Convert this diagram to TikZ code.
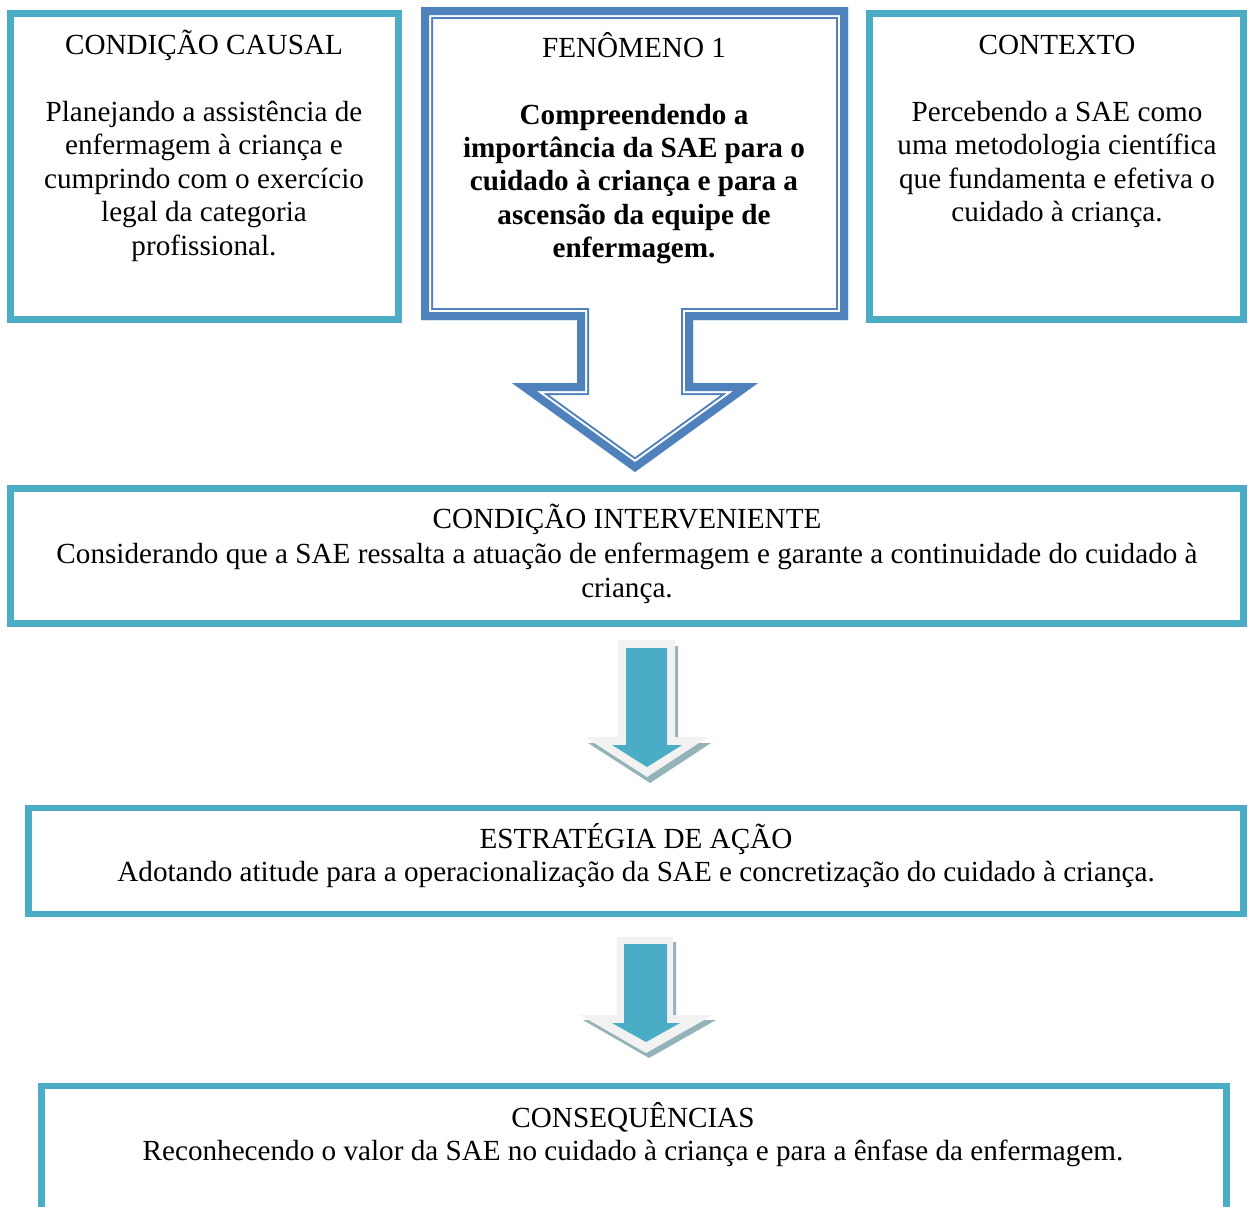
\documentclass[tikz,border=0pt]{standalone}
\usepackage{fontspec}
\setmainfont{Liberation Serif}
\usepackage{tikz}
\usetikzlibrary{positioning}
\definecolor{aqua}{HTML}{4BACC6}
\definecolor{azul}{HTML}{4F81BD}
\definecolor{cinzaseta}{HTML}{F2F2F2}
\definecolor{sombraseta}{HTML}{93B3B9}
\tikzstyle{caixa}=[draw=aqua, line width=0.13cm, shape=rectangle, fill=white, inner sep=0pt]
\tikzstyle{texto}=[black, align=center, inner sep=0pt, anchor=north, font=\fontsize{16.6}{19}\selectfont]

\begin{document}
\begin{tikzpicture}[x=0.02cm, y=-0.02cm]
\useasboundingbox (0,0) rectangle (1248,1207);

\node [caixa, minimum width=7.76cm, minimum height=6.12cm] (causal) at (204.5,166.5) {};
\node [caixa, minimum width=7.48cm, minimum height=6.12cm] (contexto) at (1056.5,166.5) {};
\node [caixa, minimum width=24.66cm, minimum height=2.70cm] (interv) at (627,556) {};
\node [caixa, minimum width=24.30cm, minimum height=2.12cm] (estrat) at (636,861) {};
\node [caixa, minimum width=23.70cm, minimum height=2.88cm] (conseq) at (634,1158) {};

% fenomeno: caixa com seta, linha dupla grossa/fina
\begin{scope}
\clip (421,7) -- (848,7) -- (848,320) -- (693,320) -- (693,383) -- (758,383) -- (635,472) -- (512,383) -- (577,383) -- (577,320) -- (421,320) -- cycle;
\fill[white] (421,7) rectangle (848,472);
\foreach \lw/\cor in {0.48cm/azul, 0.4cm/white, 0.32cm/azul}
  \draw[line width=\lw, draw=\cor, line join=miter] (421,7) -- (848,7) -- (848,320) -- (693,320) -- (693,383) -- (758,383) -- (635,472) -- (512,383) -- (577,383) -- (577,320) -- (421,320) -- cycle;
\end{scope}

% setas menores
\fill[sombraseta, shift={(3,6)}] (618,640) -- (675,640) -- (675,737) -- (708,737) -- (647,777) -- (585,737) -- (618,737) -- cycle;
\fill[cinzaseta] (618,640) -- (675,640) -- (675,737) -- (708,737) -- (647,777) -- (585,737) -- (618,737) -- cycle;
\fill[aqua] (626,648) -- (667,648) -- (667,745) -- (682,745) -- (647,767) -- (612,745) -- (626,745) -- cycle;

\fill[sombraseta, shift={(3,5)}] (617,937) -- (673,937) -- (673,1015) -- (713,1015) -- (646,1053) -- (580,1015) -- (617,1015) -- cycle;
\fill[cinzaseta] (617,937) -- (673,937) -- (673,1015) -- (713,1015) -- (646,1053) -- (580,1015) -- (617,1015) -- cycle;
\fill[aqua] (624,944) -- (667,944) -- (667,1023) -- (680,1023) -- (646,1042) -- (612,1023) -- (624,1023) -- cycle;

\node [texto] (tcausal) at (204,30) {\strut CONDIÇÃO CAUSAL\\[19pt]Planejando a assistência de\\enfermagem à criança e\\cumprindo com o exercício\\legal da categoria\\profissional.};
\node [texto] (tfen) at (634,32) {\strut FENÔMENO 1\\[19pt]\bfseries Compreendendo a\\\bfseries importância da SAE para o\\\bfseries cuidado à criança e para a\\\bfseries ascensão da equipe de\\\bfseries enfermagem.};
\node [texto] (tcontexto) at (1057,31) {\strut CONTEXTO\\[19pt]Percebendo a SAE como\\uma metodologia científica\\que fundamenta e efetiva o\\cuidado à criança.};
\node [texto] (tinterv) at (627,504) {\strut CONDIÇÃO INTERVENIENTE\\[1pt]Considerando que a SAE ressalta a atuação de enfermagem e garante a continuidade do cuidado à\\criança.};
\node [texto] (testrat) at (636,823) {\strut ESTRATÉGIA DE AÇÃO\\Adotando atitude para a operacionalização da SAE e concretização do cuidado à criança.};
\node [texto] (tconseq) at (633,1102) {\strut CONSEQUÊNCIAS\\Reconhecendo o valor da SAE no cuidado à criança e para a ênfase da enfermagem.};
\end{tikzpicture}
\end{document}
